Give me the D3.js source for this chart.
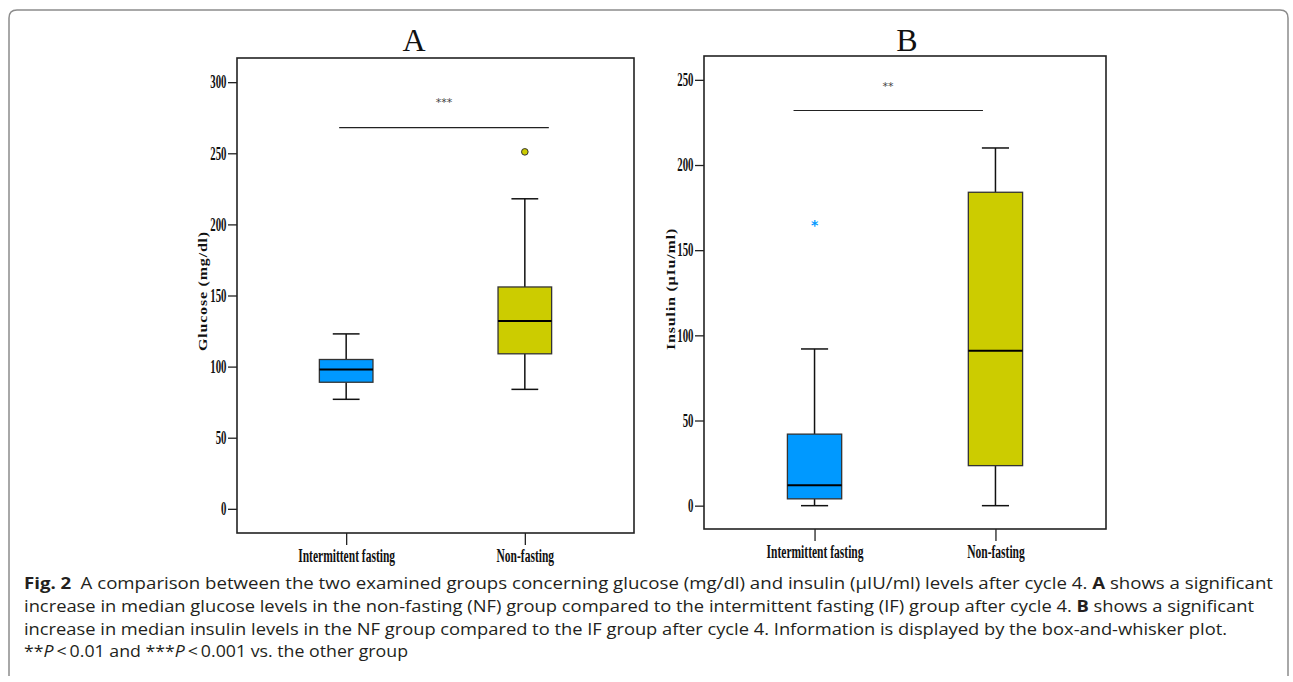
<!DOCTYPE html>
<html>
<head>
<meta charset="utf-8">
<script src="https://cdn.jsdelivr.net/npm/d3@7"></script>
<style>
  body { margin: 0; background: #fff; }
  svg { display: block; }
</style>
</head>
<body>
<div id="chart"></div>
<script>
// Groups on the x axis
const groups = ["Intermittent fasting", "Non-fasting"];

// Panel A - glucose (mg/dl), box-and-whisker stats per group
const glucoseLow = [77, 84];
const glucoseQ1 = [89, 109];
const glucoseMedian = [98, 132];
const glucoseQ3 = [105, 156];
const glucoseHigh = [123, 218];
const glucoseOutliers = [[], [251]];
const glucoseTicks = [0, 50, 100, 150, 200, 250, 300];
const glucoseSig = 268;

// Panel B - insulin (µIU/ml)
const insulinLow = [0, 0];
const insulinQ1 = [4, 23.5];
const insulinMedian = [12, 91];
const insulinQ3 = [42, 184];
const insulinHigh = [92, 210];
const insulinOutliers = [[166], []];
const insulinTicks = [0, 50, 100, 150, 200, 250];
const insulinSig = 232;

const colors = ["#0099ff", "#cccc00"];

const W = 1293, H = 682;
const svg = d3.select("#chart").append("svg")
    .attr("width", W)
    .attr("height", H)
    .style("font-family", "'Liberation Serif', 'Times New Roman', serif");

svg.append("rect").attr("width", W).attr("height", H).attr("fill", "#fff");

// outer figure frame, open at the bottom
svg.append("path")
    .attr("d", "M9,676 L9,18 Q9,10 17,10 L1280,10 Q1288,10 1288,18 L1288,676")
    .attr("fill", "none")
    .attr("stroke", "#8c8c8c")
    .attr("stroke-width", 1.5);

function drawPanel(opt) {
    const width = opt.right - opt.left,
          height = opt.bottom - opt.top;

    const g = svg.append("g").attr("transform", `translate(${opt.left},${opt.top})`);

    const x = d3.scalePoint().domain(groups).range([0, width]).padding(0.611);
    const y = d3.scaleLinear().domain(opt.domain).range([height, 0]);
    const boxW = x.step() * 0.3;

    // title letter
    svg.append("text")
        .attr("x", opt.titleX)
        .attr("y", 51)
        .attr("text-anchor", "middle")
        .attr("font-size", 32)
        .attr("fill", "#111")
        .text(opt.title);

    // y axis
    const ya = g.append("g")
        .call(d3.axisLeft(y).tickValues(opt.ticks).tickSize(9).tickFormat(d3.format("d")));
    ya.select(".domain").remove();
    ya.selectAll(".tick line").attr("stroke", "#222").attr("stroke-width", 1.3);
    ya.selectAll(".tick text")
        .attr("font-family", "'Liberation Serif', serif")
        .attr("font-weight", "bold")
        .attr("font-size", 18)
        .attr("fill", "#111")
        .attr("x", -10.5 / 0.6)
        .attr("transform", "scale(0.6,1)");

    // x axis
    const xa = g.append("g")
        .attr("transform", `translate(0,${height})`)
        .call(d3.axisBottom(x).tickSize(12).tickPadding(4));
    xa.select(".domain").remove();
    xa.selectAll(".tick line").attr("stroke", "#222").attr("stroke-width", 1.3);
    xa.selectAll(".tick text")
        .attr("font-family", "'Liberation Serif', serif")
        .attr("font-weight", "bold")
        .attr("font-size", 18)
        .attr("fill", "#111")
        .attr("transform", "scale(0.64,1)");

    // y axis title
    g.append("text")
        .attr("transform", `translate(${opt.yTitleX - opt.left},${opt.yTitleY - opt.top}) rotate(-90) scale(1,0.72)`)
        .attr("text-anchor", "middle")
        .attr("dy", "0.35em")
        .attr("font-weight", "bold")
        .attr("font-size", 16)
        .attr("letter-spacing", 0.8)
        .attr("fill", "#111")
        .text(opt.yTitle);

    const stats = groups.map((grp, i) => ({
        grp: grp,
        low: opt.low[i], q1: opt.q1[i], med: opt.median[i],
        q3: opt.q3[i], high: opt.high[i], out: opt.outliers[i], color: colors[i]
    }));

    const box = g.selectAll(".box").data(stats).enter().append("g").attr("class", "box");

    // whisker stems
    box.append("line")
        .attr("x1", d => x(d.grp)).attr("x2", d => x(d.grp))
        .attr("y1", d => y(d.high)).attr("y2", d => y(d.q3))
        .attr("stroke", "#111").attr("stroke-width", 1.5);
    box.append("line")
        .attr("x1", d => x(d.grp)).attr("x2", d => x(d.grp))
        .attr("y1", d => y(d.q1)).attr("y2", d => y(d.low))
        .attr("stroke", "#111").attr("stroke-width", 1.5);
    // whisker caps
    box.selectAll(".cap").data(d => [{grp: d.grp, v: d.high}, {grp: d.grp, v: d.low}])
        .enter().append("line")
        .attr("x1", d => x(d.grp) - boxW / 4).attr("x2", d => x(d.grp) + boxW / 4)
        .attr("y1", d => y(d.v)).attr("y2", d => y(d.v))
        .attr("stroke", "#111").attr("stroke-width", 1.5);
    // boxes
    box.append("rect")
        .attr("x", d => x(d.grp) - boxW / 2)
        .attr("width", boxW)
        .attr("y", d => y(d.q3))
        .attr("height", d => y(d.q1) - y(d.q3))
        .attr("fill", d => d.color)
        .attr("stroke", "#333")
        .attr("stroke-width", 1.3);
    // medians
    box.append("line")
        .attr("x1", d => x(d.grp) - boxW / 2).attr("x2", d => x(d.grp) + boxW / 2)
        .attr("y1", d => y(d.med)).attr("y2", d => y(d.med))
        .attr("stroke", "#000").attr("stroke-width", 2);

    // outliers
    stats.forEach(d => {
        d.out.forEach(v => {
            if (opt.outlierStyle === "circle") {
                g.append("circle")
                    .attr("cx", x(d.grp)).attr("cy", y(v)).attr("r", 3.3)
                    .attr("fill", d.color).attr("stroke", "#333").attr("stroke-width", 1);
            } else {
                g.append("text")
                    .attr("x", x(d.grp)).attr("y", y(v) + 7)
                    .attr("text-anchor", "middle")
                    .attr("font-family", "'DejaVu Sans', sans-serif")
                    .attr("font-weight", "bold")
                    .attr("font-size", 14)
                    .attr("fill", d.color)
                    .text("*");
            }
        });
    });

    // significance bar
    g.append("line")
        .attr("x1", x(groups[0]) + opt.sigFrom).attr("x2", x(groups[1]) + opt.sigTo)
        .attr("y1", y(opt.sig)).attr("y2", y(opt.sig))
        .attr("stroke", "#222").attr("stroke-width", 1.2);
    g.append("text")
        .attr("x", opt.starX - opt.left)
        .attr("y", y(opt.sig) - opt.starGap)
        .attr("text-anchor", "middle")
        .attr("font-family", "'DejaVu Sans', sans-serif")
        .attr("font-size", 11)
        .attr("fill", "#444")
        .text(opt.stars);

    // plot frame
    g.append("rect")
        .attr("width", width).attr("height", height)
        .attr("fill", "none").attr("stroke", "#222").attr("stroke-width", 1.6);
}

drawPanel({
    title: "A", titleX: 414, left: 237, right: 634, top: 58, bottom: 533,
    domain: [-17, 317], ticks: glucoseTicks,
    low: glucoseLow, q1: glucoseQ1, median: glucoseMedian, q3: glucoseQ3, high: glucoseHigh,
    outliers: glucoseOutliers, outlierStyle: "circle",
    sig: glucoseSig, sigFrom: -7, sigTo: 24, stars: "***", starX: 444, starGap: 22,
    yTitle: "Glucose (mg/dl)", yTitleX: 203, yTitleY: 291
});

drawPanel({
    title: "B", titleX: 907, left: 704, right: 1106, top: 56, bottom: 529,
    domain: [-13.7, 264], ticks: insulinTicks,
    low: insulinLow, q1: insulinQ1, median: insulinMedian, q3: insulinQ3, high: insulinHigh,
    outliers: insulinOutliers, outlierStyle: "star",
    sig: insulinSig, sigFrom: -21, sigTo: -12.5, stars: "**", starX: 888, starGap: 21,
    yTitle: "Insulin (\u00b5Iu/ml)", yTitleX: 671, yTitleY: 289
});

// caption
const caption = svg.append("g")
    .attr("font-family", "'Open Sans', 'Noto Sans', sans-serif")
    .attr("font-size", 16.5)
    .attr("fill", "#231f20");

const capLines = [
    {y: 589, len: 1249, parts: [["Fig. 2", "bold"], ["\u2002A comparison between the two examined groups concerning glucose (mg/dl) and insulin (\u00b5IU/ml) levels after cycle 4. ", ""], ["A", "bold"], [" shows a significant", ""]]},
    {y: 612, len: 1230, parts: [["increase in median glucose levels in the non-fasting (NF) group compared to the intermittent fasting (IF) group after cycle 4. ", ""], ["B", "bold"], [" shows a significant", ""]]},
    {y: 635, len: 1203, parts: [["increase in median insulin levels in the NF group compared to the IF group after cycle 4. Information is displayed by the box-and-whisker plot.", ""]]},
    {y: 657, len: 384, parts: [["**", ""], ["P", "italic"], ["\u2009<\u20090.01 and ***", ""], ["P", "italic"], ["\u2009<\u20090.001 vs. the other group", ""]]}
];

capLines.forEach(l => {
    const t = caption.append("text")
        .attr("x", 24).attr("y", l.y)
        .attr("textLength", l.len)
        .attr("lengthAdjust", "spacingAndGlyphs");
    l.parts.forEach(p => {
        const s = t.append("tspan").text(p[0]);
        if (p[1] === "bold") s.attr("font-weight", "bold");
        if (p[1] === "italic") s.attr("font-style", "italic");
    });
});
</script>
</body>
</html>
